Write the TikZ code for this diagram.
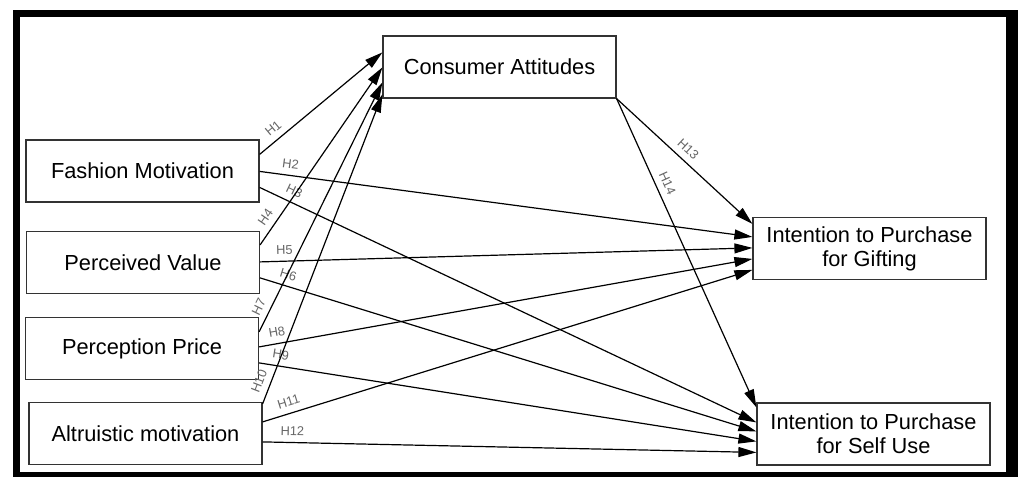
\documentclass[tikz,border=0pt]{standalone}
\usepackage{fontspec}
\setmainfont{Liberation Sans}
\usetikzlibrary{arrows.meta}

\begin{document}
\begin{tikzpicture}[x=0.5pt, y=-0.5pt,
  box/.style={draw=black!80, line width=0.6pt, minimum width=116.5pt, minimum height=31pt, inner sep=0pt, align=center, font=\fontsize{10.9}{12}\selectfont},
  hyp/.style={line width=0.6pt, -{Triangle[length=9pt,width=5pt]}},
  lbl/.style={sloped, above=2.2pt, inner sep=1pt, text=black!60, font=\fontsize{6.4}{6.4}\selectfont}]
\useasboundingbox (0,0) rectangle (1018,477);
\fill[black] (13,10) rectangle (1018,477);
\fill[white] (20,17) rectangle (1006,472);

\node[box] (fm) at (142.5,171) {Fashion Motivation};
\node[box] (pv) at (143,262.5) {Perceived Value};
\node[box] (pp) at (142,348.5) {Perception Price};
\node[box] (am) at (145.5,433.5) {Altruistic motivation};
\node[box] (ca) at (499.5,67) {Consumer Attitudes};
\node[box] (gift) at (869.5,248.5) {Intention to Purchase\\for Gifting};
\node[box] (self) at (873.5,434) {Intention to Purchase\\for Self Use};

\draw[hyp] ([yshift=-7.5pt]fm.north east) -- node[lbl, pos=.17] {H1} ([yshift=-8.5pt]ca.north west);
\draw[hyp] ([yshift=-16pt]fm.north east) -- node[lbl, pos=.06] {H2} ([yshift=-10pt]gift.north west);
\draw[hyp] ([yshift=-24pt]fm.north east) -- node[lbl, pos=.06] {H3} ([yshift=-10pt]self.north west);
\draw[hyp] ([yshift=-7pt]pv.north east) -- node[lbl, pos=.12] {H4} ([yshift=-16pt]ca.north west);
\draw[hyp] ([yshift=-15.5pt]pv.north east) -- node[lbl, pos=.05] {H5} ([yshift=-15.5pt]gift.north west);
\draw[hyp] ([yshift=-23.5pt]pv.north east) -- node[lbl, pos=.05] {H6} ([yshift=-14.5pt]self.north west);
\draw[hyp] ([yshift=-7.5pt]pp.north east) -- node[lbl, pos=.08] {H7} ([yshift=-23.5pt]ca.north west);
\draw[hyp] ([yshift=-15pt]pp.north east) -- node[lbl, pos=.04] {H8} ([yshift=-21pt]gift.north west);
\draw[hyp] ([yshift=-23pt]pp.north east) -- node[lbl, pos=.04] {H9} ([yshift=-19.5pt]self.north west);
\draw[hyp] ([yshift=-1pt]am.north east) -- node[lbl, pos=.06] {H10} ([yshift=-29.5pt]ca.north west);
\draw[hyp] ([yshift=-10pt]am.north east) -- node[lbl, pos=.06] {H11} ([yshift=-26.5pt]gift.north west);
\draw[hyp] ([yshift=-20pt]am.north east) -- node[lbl, pos=.06] {H12} ([yshift=-25pt]self.north west);
\draw[hyp] (ca.south east) -- node[lbl, pos=.47] {H13} ([yshift=-3.5pt]gift.north west);
\draw[hyp] (ca.south east) -- node[lbl, pos=.29] {H14} ([yshift=-2.5pt]self.north west);
\end{tikzpicture}
\end{document}
